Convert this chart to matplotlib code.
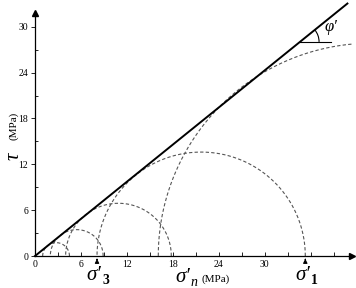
import numpy as np
import matplotlib.pyplot as plt
from matplotlib.patches import Arc

plt.rcParams['font.family'] = 'Liberation Serif'

# Mohr circles: minor / major principal stress (MPa)
sigma3 = [1.0, 2.0, 4.0, 8.1, 16.1]
sigma1 = [4.5, 8.9, 17.8, 35.3, 71.8]
phi_deg = 39.0          # friction angle of the envelope
env_end = 40.8          # envelope drawn up to this sigma_n
xticks = [0, 6, 12, 18, 24, 30]
yticks = [0, 6, 12, 18, 24, 30]

fig = plt.figure(figsize=(3.56, 2.88), dpi=100)
ax = fig.add_axes([35/356, 32/288, 317/356, 243/288])
ax.set_xlim(0, 41.4)
ax.set_ylim(0, 31.8)


def sig_label(x, y, sub, big=15, small=10, weight='bold', trans=None):
    # sigma-prime with a subscript, drawn as two texts
    trans = trans or ax.transData
    ax.annotate('σ′', xy=(x, y), xycoords=trans, fontsize=big, style='italic',
                ha='right', va='center', annotation_clip=False)
    ax.annotate(sub, xy=(x, y), xycoords=trans, xytext=(0.5, -4), textcoords='offset points',
                fontsize=small, style='italic' if weight == 'normal' else 'normal',
                weight=weight, ha='left', va='center', annotation_clip=False)


# circles
t = np.linspace(0, np.pi, 300)
for s3, s1 in zip(sigma3, sigma1):
    c = (s1 + s3) / 2
    r = (s1 - s3) / 2
    ax.plot(c + r*np.cos(t), r*np.sin(t), '--', color='#555555', lw=0.8, dashes=(3, 2))

# failure envelope
slope = np.tan(np.radians(phi_deg))
ax.plot([0, env_end], [0, env_end*slope], color='black', lw=1.4, clip_on=False, zorder=3)

# angle mark
px, py = 34.6, 34.6*slope
ax.plot([px, px + 4.0], [py, py], color='black', lw=0.8)
ax.add_patch(Arc((px, py), 5.0, 5.0, theta1=0, theta2=phi_deg, color='black', lw=0.8))
ax.text(38.6, 30.0, 'φ′', fontsize=12, style='italic', ha='center', va='center')

# axes look
for s in ['top', 'right']:
    ax.spines[s].set_visible(False)
for s in ['left', 'bottom']:
    ax.spines[s].set_linewidth(0.9)
ax.plot(1, 0, '>', color='black', ms=4, transform=ax.transAxes, clip_on=False)
ax.plot(0, 1, '^', color='black', ms=4, transform=ax.transAxes, clip_on=False)

ax.set_xticks(np.arange(0, 41, 3), minor=True)
ax.set_yticks(np.arange(0, 31, 3), minor=True)
ax.set_xticks(xticks)
ax.set_yticks(yticks)
ax.tick_params(axis='x', which='both', direction='in', length=3, width=0.6, labelsize=7, pad=3)
ax.tick_params(axis='y', which='major', direction='out', length=3, width=0.6, labelsize=7, pad=2)
ax.tick_params(axis='y', which='minor', direction='in', length=2, width=0.6)

# principal stress arrows
for s, sub in [(sigma3[3], '3'), (sigma1[3], '1')]:
    ax.annotate('', xy=(s, 0), xytext=(s, -0.85),
                arrowprops=dict(arrowstyle='-|>', color='black', lw=0.8, mutation_scale=6),
                annotation_clip=False)
    sig_label(s + 0.6, -2.5, sub)

# axis labels
sig_label(190/356, 1 - 277/288, 'n', small=10, weight='normal', trans=fig.transFigure)
fig.text(201/356, 1 - 279/288, "(MPa)", fontsize=8, ha='left', va='center')
fig.text(14/356, 1 - 156/288, 'τ', fontsize=15, style='italic', rotation=90, ha='center', va='center')
fig.text(14/356, 1 - 126/288, "(MPa)", fontsize=8, rotation=90, ha='center', va='center')

fig.savefig('out.png', dpi=100)
